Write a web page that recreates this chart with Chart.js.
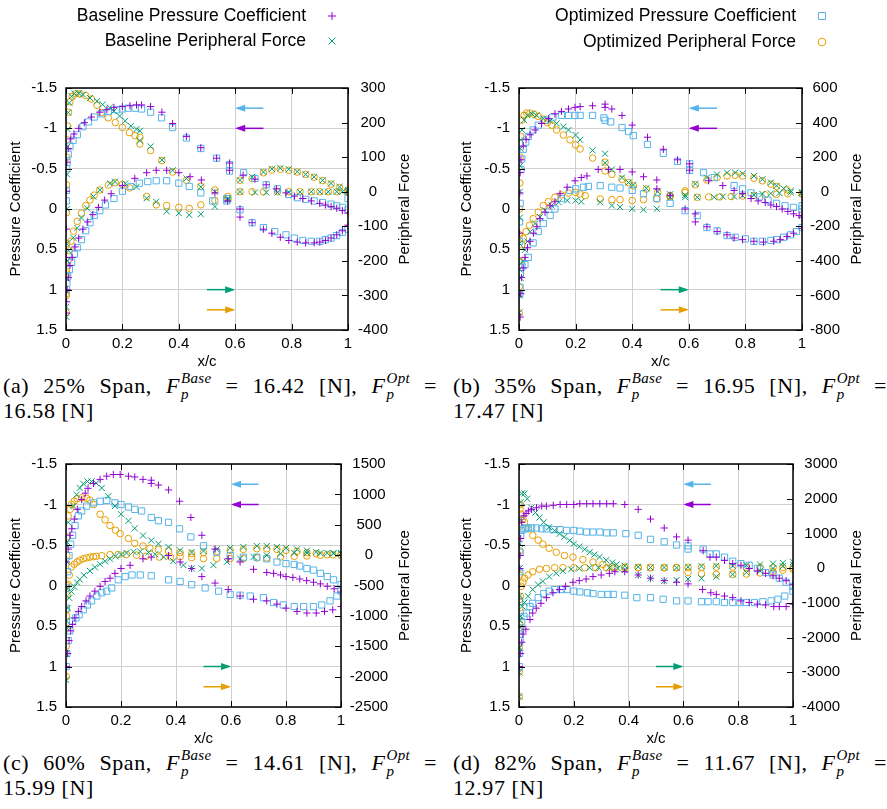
<!DOCTYPE html>
<html>
<head>
<meta charset="utf-8">
<script src="https://cdn.jsdelivr.net/npm/chart.js@4.4.1/dist/chart.umd.min.js"></script>
<style>
  html, body { margin: 0; padding: 0; background: #fff; }
  #page { position: relative; width: 887px; height: 809px; overflow: hidden; }
  canvas { position: absolute; }
  .cap { position: absolute; font-family: "Liberation Serif", "DejaVu Serif", serif; font-size: 22px; color: #000; line-height: 27px; letter-spacing: 0.6px; }
  .cap .l1 { width: 434px; height: 27px; text-align: justify; text-align-last: justify; white-space: nowrap; }
  .cap .l2 { height: 27px; }
  .ss { display: inline-block; vertical-align: -6px; font-size: 15px; line-height: 16px; font-style: italic; margin-left: 1px; letter-spacing: 0.3px; }
  .ss span { display: block; }
</style>
</head>
<body>
<div id="page">
  <canvas id="legend" width="887" height="60" style="left:0;top:0"></canvas>
  <canvas id="chartA"></canvas>
  <canvas id="chartB"></canvas>
  <canvas id="chartC"></canvas>
  <canvas id="chartD"></canvas>
</div>
<script>
// ============================
// DATA (x/c, value)
// ============================
const seriesNames = ["Baseline Pressure Coefficient", "Baseline Peripheral Force", "Optimized Pressure Coefficient", "Optimized Peripheral Force"];
const spanPct = [25, 35, 60, 82];
const forceBase = ["16.42", "16.95", "14.61", "11.67"];
const forceOpt = ["16.58", "17.47", "15.99", "12.97"];
const xTicks = [0, 0.2, 0.4, 0.6, 0.8, 1];
const cpTicks = [-1.5, -1, -0.5, 0, 0.5, 1, 1.5];
const forceMin = [-400, -800, -2500, -4000];
const forceMax = [300, 600, 1500, 3000];
const forceStep = [100, 200, 500, 1000];
// axis hint arrows: [fromX, toX, Cp level]
const arrowFromX = [0.7, 0.7, 0.5, 0.5];
const arrowToX = [0.6, 0.6, 0.6, 0.6];
const arrowCp = [-1.25, -1.0, 1.0, 1.25];

// ---- (a) 25% span ----
const aBaseCp = [[0.001,1.29],[0.002,1.15],[0.004,1.0],[0.008,0.85],[0.014,0.7],[0.022,0.6],[0.032,0.47],[0.045,0.36],[0.06,0.25],[0.077,0.16],[0.095,0.07],[0.115,-0.02],[0.137,-0.11],[0.16,-0.19],[0.2,-0.29],[0.244,-0.38],[0.286,-0.45],[0.32,-0.48],[0.357,-0.48],[0.4,-0.45],[0.44,-0.4],[0.48,-0.36],[0.528,-0.2],[0.573,-0.1],[0.617,0.0],[0.617,0.1],[0.66,0.17],[0.7,0.25],[0.73,0.3],[0.76,0.35],[0.79,0.39],[0.82,0.41],[0.85,0.42],[0.88,0.42],[0.9,0.41],[0.92,0.39],[0.94,0.36],[0.96,0.32],[0.98,0.27],[1.0,0.2],
  [0.001,0.6],[0.001,0.25],[0.002,-0.22],[0.003,-0.58],[0.008,-0.75],[0.017,-0.87],[0.028,-0.93],[0.045,-1.0],[0.065,-1.07],[0.09,-1.14],[0.12,-1.2],[0.145,-1.23],[0.17,-1.26],[0.2,-1.27],[0.227,-1.28],[0.25,-1.29],[0.268,-1.29],[0.3,-1.27],[0.34,-1.2],[0.378,-1.06],[0.427,-0.9],[0.478,-0.76],[0.534,-0.63],[0.58,-0.57],[0.58,-0.48],[0.628,-0.42],[0.67,-0.37],[0.71,-0.3],[0.746,-0.25],[0.78,-0.2],[0.81,-0.16],[0.84,-0.13],[0.87,-0.1],[0.9,-0.07],[0.92,-0.05],[0.94,-0.03],[0.96,-0.01],[0.98,0.02],[1.0,0.05]];
const aBaseF = [[0.001,-362],[0.001,-333],[0.002,-250],[0.003,-150],[0.003,-50],[0.004,50],[0.005,130],[0.006,181],[0.008,229],[0.012,257],[0.02,276],[0.03,284],[0.045,285],[0.06,281],[0.085,271],[0.11,262],[0.13,252],[0.155,243],[0.17,233],[0.19,219],[0.21,205],[0.23,190],[0.25,181],[0.262,176],[0.262,148],[0.3,131],[0.34,92],[0.378,62],[0.427,38],[0.478,14],[0.528,0],[0.575,-20],[0.617,33],[0.66,43],[0.7,57],[0.73,66],[0.76,68],[0.79,65],[0.82,58],[0.85,50],[0.88,43],[0.91,33],[0.94,24],[0.97,14],[1.0,5],
  [0.004,-200],[0.009,-171],[0.026,-133],[0.04,-105],[0.055,-76],[0.075,-48],[0.097,-14],[0.12,5],[0.156,24],[0.174,29],[0.21,24],[0.25,14],[0.286,-19],[0.32,-29],[0.357,-57],[0.4,-62],[0.437,-67],[0.478,-65],[0.528,-43],[0.573,-24],[0.617,0],[0.67,-2],[0.71,-2],[0.75,-2],[0.79,-1],[0.83,-1],[0.87,0],[0.9,0],[0.93,0],[0.96,0],[0.98,0],[1.0,0]];
const aOptCp = [[0.001,1.0],[0.003,0.92],[0.006,0.84],[0.012,0.75],[0.02,0.66],[0.03,0.56],[0.04,0.48],[0.055,0.38],[0.07,0.27],[0.085,0.17],[0.1,0.08],[0.12,0.02],[0.14,-0.05],[0.17,-0.13],[0.2,-0.22],[0.23,-0.28],[0.26,-0.32],[0.29,-0.34],[0.32,-0.35],[0.357,-0.35],[0.4,-0.32],[0.437,-0.28],[0.478,-0.2],[0.52,-0.1],[0.57,-0.13],[0.57,-0.1],[0.617,0.01],[0.66,0.17],[0.7,0.23],[0.74,0.28],[0.78,0.32],[0.81,0.36],[0.84,0.39],[0.87,0.4],[0.9,0.4],[0.92,0.38],[0.94,0.36],[0.96,0.33],[0.98,0.29],[1.0,0.25],
  [0.001,-0.1],[0.001,-0.23],[0.002,-0.5],[0.004,-0.58],[0.008,-0.68],[0.014,-0.78],[0.025,-0.85],[0.04,-0.92],[0.06,-1.02],[0.08,-1.08],[0.1,-1.14],[0.125,-1.18],[0.15,-1.21],[0.18,-1.23],[0.2,-1.24],[0.22,-1.25],[0.245,-1.25],[0.268,-1.24],[0.3,-1.2],[0.339,-1.13],[0.378,-1.01],[0.427,-0.88],[0.478,-0.75],[0.534,-0.63],[0.58,-0.55],[0.58,-0.47],[0.63,-0.45],[0.67,-0.38],[0.71,-0.3],[0.75,-0.25],[0.79,-0.18],[0.82,-0.14],[0.85,-0.12],[0.88,-0.1],[0.91,-0.08],[0.94,-0.06],[0.96,-0.04],[0.98,-0.02],[1.0,0.01],[1.0,-0.13]];
const aOptF = [[0.001,-350],[0.001,-300],[0.002,-230],[0.002,-150],[0.002,-60],[0.002,20],[0.003,100],[0.004,150],[0.006,190],[0.009,230],[0.014,260],[0.022,276],[0.035,283],[0.05,283],[0.07,278],[0.09,268],[0.11,250],[0.125,229],[0.15,214],[0.175,200],[0.2,186],[0.225,171],[0.245,162],[0.262,157],[0.262,138],[0.3,119],[0.34,90],[0.378,57],[0.427,33],[0.478,16],[0.528,5],[0.575,-20],[0.617,33],[0.66,38],[0.7,55],[0.73,63],[0.76,65],[0.79,62],[0.82,57],[0.85,50],[0.88,42],[0.91,32],[0.94,22],[0.97,12],[1.0,5],
  [0.001,-295],[0.004,-238],[0.007,-200],[0.012,-171],[0.018,-143],[0.027,-114],[0.04,-86],[0.055,-62],[0.07,-40],[0.085,-24],[0.1,-10],[0.12,5],[0.15,19],[0.175,26],[0.2,21],[0.225,11],[0.286,-14],[0.32,-38],[0.357,-40],[0.4,-45],[0.437,-48],[0.478,-38],[0.528,-25],[0.573,-14],[0.617,0],[0.66,0],[0.7,0],[0.75,0],[0.79,0],[0.83,0],[0.87,0],[0.9,0],[0.93,0],[0.96,0],[1.0,0]];

// ---- (b) 35% span ----
const bBaseCp = [[0.004,1.34],[0.006,1.05],[0.009,0.85],[0.015,0.73],[0.021,0.6],[0.03,0.48],[0.039,0.4],[0.051,0.3],[0.063,0.22],[0.074,0.12],[0.092,0.04],[0.11,-0.04],[0.127,-0.09],[0.145,-0.19],[0.17,-0.27],[0.198,-0.35],[0.22,-0.39],[0.24,-0.41],[0.28,-0.49],[0.316,-0.49],[0.357,-0.49],[0.4,-0.46],[0.44,-0.4],[0.487,-0.36],[0.487,-0.25],[0.534,-0.17],[0.587,0.0],[0.623,0.06],[0.623,0.16],[0.664,0.22],[0.7,0.28],[0.735,0.32],[0.76,0.36],[0.79,0.38],[0.83,0.4],[0.864,0.41],[0.9,0.4],[0.923,0.38],[0.947,0.34],[0.97,0.3],[1.0,0.24],
  [0.002,0.3],[0.003,-0.2],[0.004,-0.45],[0.007,-0.61],[0.015,-0.78],[0.025,-0.86],[0.039,-0.92],[0.057,-0.98],[0.08,-1.06],[0.104,-1.12],[0.127,-1.18],[0.15,-1.21],[0.175,-1.24],[0.198,-1.26],[0.216,-1.27],[0.26,-1.28],[0.304,-1.3],[0.304,-1.26],[0.328,-1.24],[0.364,-1.16],[0.4,-1.04],[0.454,-0.89],[0.51,-0.74],[0.56,-0.61],[0.603,-0.56],[0.603,-0.48],[0.67,-0.35],[0.72,-0.29],[0.76,-0.23],[0.79,-0.19],[0.82,-0.13],[0.845,-0.1],[0.87,-0.08],[0.89,-0.05],[0.91,-0.03],[0.93,0.0],[0.95,0.03],[0.97,0.06],[0.99,0.08],[1.0,0.1]];
const bBaseF = [[0.001,-700],[0.001,-600],[0.002,-450],[0.002,-300],[0.003,-150],[0.003,0],[0.004,150],[0.005,250],[0.006,300],[0.01,357],[0.018,414],[0.03,442],[0.045,451],[0.062,442],[0.086,423],[0.11,410],[0.133,395],[0.157,376],[0.175,357],[0.2,328],[0.216,300],[0.26,239],[0.304,220],[0.304,167],[0.328,129],[0.364,82],[0.387,53],[0.404,40],[0.45,20],[0.49,0],[0.534,-15],[0.587,-20],[0.623,45],[0.664,82],[0.7,100],[0.735,110],[0.764,110],[0.79,104],[0.83,91],[0.86,72],[0.89,53],[0.91,34],[0.935,19],[0.96,6],[1.0,-8],
  [0.002,-592],[0.006,-500],[0.013,-402],[0.021,-336],[0.03,-288],[0.04,-231],[0.057,-184],[0.074,-146],[0.092,-108],[0.115,-80],[0.14,-61],[0.17,-51],[0.2,-51],[0.22,-57],[0.287,-61],[0.328,-80],[0.357,-89],[0.4,-99],[0.44,-104],[0.487,-99],[0.534,-32],[0.587,-32],[0.63,-32],[0.69,-32],[0.72,-28],[0.76,-28],[0.79,-23],[0.83,-19],[0.86,-13],[0.89,-10],[0.92,-8],[0.96,-4],[1.0,-4]];
const bOptCp = [[0.003,1.05],[0.004,0.97],[0.005,0.8],[0.01,0.72],[0.021,0.69],[0.033,0.6],[0.05,0.42],[0.068,0.28],[0.086,0.18],[0.11,0.08],[0.127,0.0],[0.15,-0.13],[0.18,-0.23],[0.2,-0.25],[0.228,-0.27],[0.245,-0.28],[0.287,-0.29],[0.328,-0.27],[0.357,-0.26],[0.4,-0.23],[0.44,-0.19],[0.487,-0.13],[0.534,-0.07],[0.587,0.02],[0.63,0.08],[0.664,0.23],[0.7,0.27],[0.735,0.33],[0.764,0.35],[0.8,0.37],[0.83,0.4],[0.86,0.4],[0.89,0.39],[0.91,0.38],[0.935,0.35],[0.96,0.32],[0.98,0.28],[1.0,0.23],
  [0.002,0.4],[0.002,0.16],[0.004,-0.07],[0.007,-0.49],[0.01,-0.62],[0.015,-0.74],[0.024,-0.83],[0.033,-0.9],[0.05,-0.98],[0.068,-1.04],[0.092,-1.1],[0.12,-1.14],[0.15,-1.16],[0.175,-1.16],[0.198,-1.16],[0.216,-1.16],[0.26,-1.16],[0.3,-1.13],[0.304,-1.1],[0.324,-1.08],[0.364,-1.01],[0.387,-0.96],[0.404,-0.91],[0.454,-0.8],[0.51,-0.69],[0.56,-0.59],[0.603,-0.56],[0.603,-0.48],[0.652,-0.45],[0.69,-0.39],[0.76,-0.29],[0.79,-0.25],[0.82,-0.2],[0.85,-0.15],[0.88,-0.11],[0.91,-0.07],[0.94,-0.04],[0.97,-0.02],[1.0,0.0],[1.0,-0.04]];
const bOptF = [[0.001,-700],[0.001,-550],[0.002,-400],[0.002,-250],[0.002,-100],[0.003,50],[0.004,200],[0.006,320],[0.01,414],[0.018,442],[0.027,455],[0.039,455],[0.053,448],[0.068,436],[0.086,420],[0.1,400],[0.116,385],[0.133,357],[0.157,328],[0.18,300],[0.2,271],[0.216,247],[0.26,195],[0.304,171],[0.304,120],[0.328,100],[0.364,72],[0.387,53],[0.404,34],[0.45,15],[0.49,-4],[0.534,-23],[0.587,5],[0.623,40],[0.664,68],[0.7,82],[0.735,91],[0.764,95],[0.79,91],[0.83,78],[0.86,63],[0.89,44],[0.91,30],[0.947,11],[1.0,-13],
  [0.002,-402],[0.01,-307],[0.015,-269],[0.025,-231],[0.037,-194],[0.05,-156],[0.068,-118],[0.086,-80],[0.104,-57],[0.127,-32],[0.15,-19],[0.175,-8],[0.2,-4],[0.216,-13],[0.234,-23],[0.287,-42],[0.328,-46],[0.357,-46],[0.4,-51],[0.44,-46],[0.487,-42],[0.534,-27],[0.587,-4],[0.63,-32],[0.67,-30],[0.71,-30],[0.75,-28],[0.79,-25],[0.83,-22],[0.87,-18],[0.91,-15],[0.95,-12],[1.0,-10]];

// ---- (c) 60% span ----
const cBaseCp = [[0.002,1.0],[0.006,0.84],[0.011,0.68],[0.017,0.56],[0.024,0.48],[0.032,0.4],[0.045,0.32],[0.057,0.26],[0.073,0.19],[0.087,0.13],[0.105,0.07],[0.124,0.01],[0.142,-0.05],[0.16,-0.09],[0.178,-0.15],[0.2,-0.21],[0.233,-0.25],[0.28,-0.33],[0.31,-0.35],[0.373,-0.37],[0.415,-0.29],[0.457,-0.21],[0.494,-0.11],[0.542,-0.03],[0.59,0.05],[0.633,0.13],[0.682,0.17],[0.73,0.19],[0.767,0.23],[0.8,0.28],[0.84,0.32],[0.876,0.34],[0.91,0.34],[0.94,0.32],[0.97,0.3],[1.0,0.26],
  [0.002,-0.29],[0.008,-0.45],[0.015,-0.62],[0.021,-0.7],[0.03,-0.82],[0.041,-0.94],[0.057,-1.06],[0.07,-1.14],[0.08,-1.2],[0.1,-1.26],[0.124,-1.31],[0.148,-1.35],[0.172,-1.37],[0.197,-1.37],[0.227,-1.35],[0.25,-1.34],[0.28,-1.31],[0.31,-1.3],[0.31,-1.26],[0.336,-1.24],[0.373,-1.18],[0.413,-1.04],[0.454,-0.84],[0.494,-0.62],[0.542,-0.45],[0.59,-0.33],[0.633,-0.29],[0.682,-0.2],[0.73,-0.16],[0.755,-0.15],[0.78,-0.13],[0.8,-0.11],[0.825,-0.1],[0.85,-0.08],[0.875,-0.06],[0.9,-0.04],[0.925,-0.02],[0.95,0.01],[0.975,0.04],[1.0,0.08]];
const cBaseF = [[0.001,-2056],[0.001,-1624],[0.002,-1084],[0.002,-543],[0.003,-111],[0.004,213],[0.008,538],[0.027,808],[0.039,997],[0.05,1105],[0.063,1175],[0.078,1213],[0.093,1213],[0.11,1186],[0.13,1105],[0.154,970],[0.178,808],[0.2,673],[0.227,565],[0.25,440],[0.28,322],[0.31,241],[0.336,187],[0.373,132],[0.415,78],[0.457,51],[0.5,68],[0.548,95],[0.597,116],[0.645,132],[0.694,149],[0.73,149],[0.767,132],[0.8,116],[0.84,95],[0.876,73],[0.91,51],[0.95,35],[0.973,24],[1.0,24],
  [0.002,-1192],[0.006,-870],[0.012,-705],[0.02,-600],[0.03,-520],[0.04,-450],[0.05,-400],[0.065,-330],[0.087,-260],[0.105,-200],[0.124,-150],[0.142,-100],[0.16,-60],[0.18,-20],[0.2,10],[0.22,35],[0.245,55],[0.27,60],[0.3,45],[0.324,15],[0.355,-30],[0.39,-100],[0.427,-165],[0.457,-219],[0.494,-219],[0.536,-165],[0.585,-111],[0.633,-57],[0.682,-30],[0.73,-3],[0.78,24],[0.83,35],[0.876,35],[0.925,35],[0.973,35],[1.0,35]];
const cOptCp = [[0.001,1.0],[0.003,0.84],[0.008,0.68],[0.014,0.56],[0.024,0.44],[0.036,0.4],[0.048,0.36],[0.063,0.3],[0.078,0.24],[0.093,0.19],[0.112,0.13],[0.13,0.09],[0.148,0.07],[0.166,0.03],[0.19,-0.07],[0.215,-0.11],[0.24,-0.13],[0.27,-0.13],[0.31,-0.12],[0.373,-0.07],[0.415,-0.05],[0.457,-0.01],[0.506,0.03],[0.555,0.07],[0.597,0.11],[0.633,0.12],[0.67,0.13],[0.718,0.15],[0.755,0.21],[0.79,0.24],[0.83,0.26],[0.864,0.26],[0.9,0.26],[0.93,0.24],[0.96,0.19],[0.985,0.13],[1.0,0.07],
  [0.001,0.28],[0.002,0.03],[0.006,-0.17],[0.011,-0.37],[0.017,-0.51],[0.024,-0.62],[0.033,-0.74],[0.045,-0.86],[0.057,-0.92],[0.075,-0.98],[0.1,-1.02],[0.124,-1.04],[0.148,-1.05],[0.178,-1.02],[0.2,-1.0],[0.227,-0.97],[0.25,-0.94],[0.275,-0.92],[0.31,-0.84],[0.336,-0.8],[0.373,-0.78],[0.413,-0.7],[0.454,-0.6],[0.5,-0.49],[0.548,-0.41],[0.597,-0.37],[0.645,-0.35],[0.694,-0.35],[0.73,-0.33],[0.767,-0.29],[0.8,-0.27],[0.83,-0.26],[0.85,-0.24],[0.876,-0.21],[0.9,-0.19],[0.925,-0.15],[0.95,-0.11],[0.973,-0.07],[1.0,-0.01]];
const cOptF = [[0.001,-2000],[0.001,-1500],[0.002,-1000],[0.002,-500],[0.003,0],[0.004,300],[0.008,646],[0.015,754],[0.02,835],[0.03,889],[0.041,927],[0.057,943],[0.075,935],[0.087,905],[0.1,833],[0.124,673],[0.142,580],[0.16,487],[0.18,410],[0.197,353],[0.227,273],[0.25,193],[0.28,150],[0.305,113],[0.336,90],[0.373,70],[0.415,41],[0.457,24],[0.5,41],[0.548,62],[0.597,78],[0.645,95],[0.694,105],[0.73,105],[0.767,95],[0.8,78],[0.84,62],[0.876,41],[0.91,24],[0.95,8],[1.0,-3],
  [0.001,-1200],[0.002,-900],[0.004,-650],[0.007,-480],[0.012,-330],[0.02,-193],[0.03,-150],[0.04,-113],[0.05,-85],[0.063,-60],[0.075,-45],[0.087,-33],[0.1,-25],[0.11,-20],[0.13,-10],[0.16,7],[0.19,10],[0.22,10],[0.257,0],[0.29,-20],[0.34,-33],[0.38,-30],[0.415,-25],[0.457,-40],[0.5,-57],[0.548,-57],[0.597,-57],[0.645,-57],[0.694,-46],[0.73,-46],[0.78,-30],[0.83,-19],[0.876,-13],[0.925,-3],[0.97,5],[1.0,8]];

// ---- (d) 82% span ----
const dBaseCp = [[0.002,1.0],[0.006,0.84],[0.01,0.7],[0.015,0.6],[0.025,0.54],[0.04,0.42],[0.05,0.34],[0.063,0.28],[0.08,0.22],[0.1,0.15],[0.124,0.09],[0.148,0.05],[0.17,0.01],[0.197,-0.04],[0.22,-0.06],[0.245,-0.08],[0.27,-0.11],[0.3,-0.13],[0.33,-0.15],[0.35,-0.17],[0.386,-0.17],[0.435,-0.13],[0.48,-0.09],[0.53,-0.06],[0.575,-0.04],[0.617,-0.02],[0.67,0.05],[0.7,0.09],[0.72,0.11],[0.75,0.13],[0.78,0.15],[0.81,0.19],[0.84,0.21],[0.87,0.23],[0.9,0.24],[0.93,0.26],[0.95,0.26],[0.975,0.26],[1.0,0.23],
  [0.003,-0.21],[0.004,-0.37],[0.006,-0.58],[0.01,-0.78],[0.018,-0.86],[0.026,-0.89],[0.034,-0.92],[0.046,-0.94],[0.064,-0.96],[0.083,-0.98],[0.1,-0.98],[0.125,-0.99],[0.15,-1.0],[0.174,-1.0],[0.2,-1.0],[0.222,-1.01],[0.247,-1.01],[0.27,-1.01],[0.295,-1.01],[0.32,-1.01],[0.344,-1.01],[0.386,-1.0],[0.435,-0.94],[0.48,-0.82],[0.53,-0.71],[0.575,-0.6],[0.617,-0.56],[0.672,-0.43],[0.697,-0.35],[0.72,-0.35],[0.75,-0.31],[0.78,-0.27],[0.81,-0.25],[0.84,-0.21],[0.87,-0.18],[0.9,-0.15],[0.927,-0.12],[0.95,-0.09],[0.975,-0.06],[1.0,-0.01]];
const dBaseF = [[0.001,-3700],[0.001,-3000],[0.001,-2300],[0.002,-1500],[0.002,-800],[0.003,0],[0.003,700],[0.004,1400],[0.006,1900],[0.01,2150],[0.02,2150],[0.03,2000],[0.045,1740],[0.06,1600],[0.075,1460],[0.09,1320],[0.11,1180],[0.13,1080],[0.148,990],[0.165,900],[0.185,800],[0.2,700],[0.22,620],[0.24,540],[0.258,460],[0.275,390],[0.294,320],[0.318,230],[0.34,160],[0.356,110],[0.386,66],[0.435,38],[0.48,19],[0.53,19],[0.575,9],[0.617,38],[0.666,57],[0.72,66],[0.78,66],[0.83,85],[0.88,104],[0.927,132],[0.963,151],[1.0,180],
  [0.002,-2280],[0.004,-1712],[0.006,-1387],[0.012,-1100],[0.02,-990],[0.033,-810],[0.05,-617],[0.07,-477],[0.087,-383],[0.11,-243],[0.136,-150],[0.16,-80],[0.19,-33],[0.22,-10],[0.258,13],[0.29,13],[0.33,13],[0.36,0],[0.386,-57],[0.435,-199],[0.48,-293],[0.53,-369],[0.575,-341],[0.617,-312],[0.666,-293],[0.72,-246],[0.78,-180],[0.83,-123],[0.88,-76],[0.927,-9],[0.963,57],[1.0,104]];
const dOptCp = [[0.002,0.84],[0.004,0.68],[0.006,0.55],[0.01,0.45],[0.018,0.38],[0.027,0.34],[0.04,0.26],[0.05,0.22],[0.07,0.15],[0.09,0.1],[0.11,0.07],[0.13,0.05],[0.155,0.05],[0.175,0.05],[0.2,0.07],[0.222,0.08],[0.25,0.09],[0.27,0.1],[0.3,0.11],[0.325,0.11],[0.344,0.11],[0.386,0.12],[0.43,0.15],[0.48,0.15],[0.526,0.17],[0.575,0.19],[0.617,0.19],[0.666,0.2],[0.69,0.2],[0.72,0.2],[0.75,0.21],[0.78,0.21],[0.806,0.21],[0.83,0.21],[0.86,0.21],[0.89,0.2],[0.92,0.19],[0.945,0.17],[0.97,0.13],[1.0,0.07],
  [0.001,1.0],[0.001,0.6],[0.002,0.2],[0.003,-0.17],[0.004,-0.41],[0.006,-0.62],[0.01,-0.68],[0.018,-0.7],[0.026,-0.71],[0.034,-0.71],[0.046,-0.71],[0.064,-0.71],[0.083,-0.7],[0.1,-0.7],[0.125,-0.69],[0.15,-0.69],[0.174,-0.68],[0.2,-0.68],[0.222,-0.67],[0.247,-0.66],[0.27,-0.66],[0.295,-0.66],[0.32,-0.65],[0.344,-0.65],[0.39,-0.64],[0.435,-0.62],[0.48,-0.57],[0.53,-0.54],[0.575,-0.5],[0.617,-0.49],[0.617,-0.45],[0.672,-0.45],[0.697,-0.39],[0.72,-0.39],[0.75,-0.35],[0.78,-0.3],[0.81,-0.27],[0.84,-0.25],[0.87,-0.21],[0.9,-0.16],[0.927,-0.13],[0.95,-0.09],[0.975,-0.04],[1.0,0.01]];
const dOptF = [[0.001,-3700],[0.001,-3000],[0.001,-2300],[0.002,-1600],[0.002,-900],[0.002,-200],[0.003,500],[0.003,1200],[0.004,1700],[0.005,1833],[0.008,1553],[0.014,1420],[0.02,1320],[0.033,1133],[0.05,947],[0.07,807],[0.087,690],[0.11,573],[0.136,457],[0.166,363],[0.197,317],[0.233,247],[0.27,177],[0.306,107],[0.34,37],[0.386,30],[0.435,20],[0.48,20],[0.53,15],[0.575,15],[0.617,-123],[0.666,-160],[0.72,-180],[0.78,-180],[0.83,-170],[0.88,-140],[0.927,-100],[0.963,-60],[1.0,-30],
  [0.002,-1712],[0.003,-1145],[0.005,-810],[0.008,-523],[0.014,-400],[0.02,-290],[0.033,-197],[0.05,-103],[0.075,-33],[0.1,-10],[0.13,13],[0.16,13],[0.2,13],[0.24,13],[0.28,13],[0.32,13],[0.35,13],[0.386,13],[0.435,13],[0.48,13],[0.53,10],[0.575,10],[0.617,20],[0.666,25],[0.72,30],[0.78,30],[0.83,30],[0.88,25],[0.927,20],[0.963,15],[1.0,10]];

const panelSeries = [
  [aBaseCp, aBaseF, aOptCp, aOptF],
  [bBaseCp, bBaseF, bOptCp, bOptF],
  [cBaseCp, cBaseF, cOptCp, cOptF],
  [dBaseCp, dBaseF, dOptCp, dOptF]
];

// ============================
// STYLE / LAYOUT
// ============================
const colors = ["#9400d3", "#009e73", "#56b4e9", "#e69f00"];
const markers = ["cross", "crossRot", "rect", "circle"];
const radii = [3.6, 4.3, 4.4, 3.3];
const FONT = '"Liberation Sans", Arial, sans-serif';

// canvas box and plot box for each panel (page pixels)
const layout = [
  { id: "chartA", cx: 0,   cy: 70,  cw: 445, ch: 300, l: 66,  t: 85,  r: 348, b: 330, rGap: 57, lGap: 50, tickOff: 25 },
  { id: "chartB", cx: 445, cy: 70,  cw: 442, ch: 300, l: 519, t: 85,  r: 802, b: 330, rGap: 55, lGap: 52, tickOff: 23 },
  { id: "chartC", cx: 0,   cy: 446, cw: 445, ch: 300, l: 66,  t: 461, r: 341, b: 707, rGap: 64, lGap: 50, tickOff: 28 },
  { id: "chartD", cx: 445, cy: 446, cw: 442, ch: 300, l: 519, t: 461, r: 793, b: 707, rGap: 64, lGap: 52, tickOff: 28 }
];
const captionPos = [[3, 370], [453, 370], [3, 747], [453, 747]];

// ============================
// FRAME, TICKS, ARROWS, AXIS TITLES
// ============================
const framePlugin = {
  id: "frame",
  afterDraw(chart, args, opts) {
    const { ctx, chartArea: a, scales } = chart;
    ctx.save();
    // inward tick marks
    ctx.strokeStyle = "#000";
    ctx.lineWidth = 1;
    ctx.beginPath();
    xTicks.forEach(v => {
      const x = Math.round(scales.x.getPixelForValue(v)) + 0.5;
      ctx.moveTo(x, a.bottom); ctx.lineTo(x, a.bottom - 6);
      ctx.moveTo(x, a.top); ctx.lineTo(x, a.top + 6);
    });
    cpTicks.forEach(v => {
      const y = Math.round(scales.y.getPixelForValue(v)) + 0.5;
      ctx.moveTo(a.left, y); ctx.lineTo(a.left + 6, y);
    });
    const fTicks = scales.y2.ticks.map(t => t.value);
    fTicks.forEach(v => {
      const y = Math.round(scales.y2.getPixelForValue(v)) + 0.5;
      ctx.moveTo(a.right, y); ctx.lineTo(a.right - 6, y);
    });
    ctx.stroke();

    // arrows pointing to the axis each series uses
    arrowCp.forEach((cp, i) => {
      const col = [colors[2], colors[0], colors[1], colors[3]][i];
      const y = scales.y.getPixelForValue(cp);
      const x1 = scales.x.getPixelForValue(arrowFromX[i]);
      const x2 = scales.x.getPixelForValue(arrowToX[i]);
      const dir = Math.sign(x2 - x1);
      ctx.strokeStyle = col; ctx.fillStyle = col; ctx.lineWidth = 1.5;
      ctx.beginPath(); ctx.moveTo(x1, y); ctx.lineTo(x2 - dir * 2, y); ctx.stroke();
      ctx.beginPath();
      ctx.moveTo(x2, y); ctx.lineTo(x2 - dir * 10, y - 3.5); ctx.lineTo(x2 - dir * 10, y + 3.5);
      ctx.closePath(); ctx.fill();
    });

    // border
    ctx.strokeStyle = "#000";
    ctx.lineWidth = 1.5;
    ctx.strokeRect(a.left, a.top, a.right - a.left, a.bottom - a.top);

    // right axis labels, centred like the original
    ctx.fillStyle = "#000";
    ctx.font = "15px " + FONT;
    ctx.textAlign = "center";
    ctx.textBaseline = "middle";
    fTicks.forEach(v => {
      ctx.fillText(String(v), a.right + opts.tickOff, scales.y2.getPixelForValue(v));
    });

    // axis titles
    ctx.fillText("x/c", (a.left + a.right) / 2, a.bottom + 32);
    const midY = (a.top + a.bottom) / 2;
    [[a.left - opts.lGap, "Pressure Coefficient"], [a.right + opts.rGap, "Peripheral Force"]].forEach(([x, txt]) => {
      ctx.save();
      ctx.translate(x, midY);
      ctx.rotate(-Math.PI / 2);
      ctx.fillText(txt, 0, 0);
      ctx.restore();
    });
    ctx.restore();
  }
};

// ============================
// BUILD CHARTS
// ============================
function buildPanel(p) {
  const L = layout[p];
  const cv = document.getElementById(L.id);
  cv.width = L.cw; cv.height = L.ch;
  cv.style.left = L.cx + "px"; cv.style.top = L.cy + "px";

  const datasets = panelSeries[p].map((pts, i) => ({
    label: seriesNames[i],
    data: pts.map(q => ({ x: q[0], y: q[1] })),
    yAxisID: (i % 2 === 0) ? "y" : "y2",
    showLine: false,
    pointStyle: markers[i],
    pointRadius: radii[i],
    pointBorderWidth: 1,
    pointBorderColor: colors[i],
    pointBackgroundColor: "rgba(0,0,0,0)",
    borderColor: colors[i],
    backgroundColor: "rgba(0,0,0,0)"
  }));

  const tickFont = { family: FONT, size: 15 };

  new Chart(cv, {
    type: "scatter",
    data: { datasets },
    options: {
      responsive: false,
      animation: false,
      events: [],
      layout: { padding: { top: L.t - L.cy, left: 0, right: 0, bottom: 0 } },
      plugins: {
        legend: { display: false },
        tooltip: { enabled: false },
        frame: { lGap: L.lGap, rGap: L.rGap, tickOff: L.tickOff }
      },
      scales: {
        x: {
          type: "linear", min: 0, max: 1,
          ticks: { stepSize: 0.2, color: "#000", font: tickFont, padding: 5, maxRotation: 0, callback: v => String(v) },
          grid: { color: "#cfcfcf", drawTicks: false, lineWidth: 1 },
          border: { display: false },
          afterFit: s => { s.height = L.cy + L.ch - L.b; }
        },
        y: {
          type: "linear", position: "left", reverse: true, min: -1.5, max: 1.5,
          ticks: { stepSize: 0.5, color: "#000", font: tickFont, padding: 9, callback: v => String(v) },
          grid: { color: "#cfcfcf", drawTicks: false, lineWidth: 1 },
          border: { display: false },
          afterFit: s => { s.width = L.l - L.cx; }
        },
        y2: {
          type: "linear", position: "right", min: forceMin[p], max: forceMax[p],
          ticks: { stepSize: forceStep[p], display: false },
          grid: { display: false, drawOnChartArea: false },
          border: { display: false },
          afterFit: s => { s.width = L.cx + L.cw - L.r; }
        }
      }
    },
    plugins: [framePlugin]
  });
}

// ============================
// LEGEND (top strip)
// ============================
function drawMarker(ctx, style, x, y, color) {
  ctx.strokeStyle = color; ctx.lineWidth = 1;
  ctx.beginPath();
  if (style === "cross") { ctx.moveTo(x - 4, y); ctx.lineTo(x + 4, y); ctx.moveTo(x, y - 4); ctx.lineTo(x, y + 4); }
  else if (style === "crossRot") { ctx.moveTo(x - 3.5, y - 3.5); ctx.lineTo(x + 3.5, y + 3.5); ctx.moveTo(x + 3.5, y - 3.5); ctx.lineTo(x - 3.5, y + 3.5); }
  else if (style === "rect") { ctx.rect(x - 3.5, y - 3.5, 7, 7); }
  else { ctx.arc(x, y, 3.8, 0, Math.PI * 2); }
  ctx.stroke();
}

function drawLegend() {
  const ctx = document.getElementById("legend").getContext("2d");
  ctx.font = "17.5px " + FONT;
  ctx.fillStyle = "#000";
  ctx.textAlign = "right";
  ctx.textBaseline = "middle";
  const textRight = [306, 306, 796, 796];
  const markX = [332, 332, 822, 822];
  const rowY = [16, 41, 16, 42];
  [0, 1, 2, 3].forEach((s, k) => {
    ctx.fillText(seriesNames[s], textRight[k], rowY[k]);
    drawMarker(ctx, markers[s], markX[k], rowY[k], colors[s]);
  });
}

// ============================
// CAPTIONS
// ============================
function buildCaptions() {
  const page = document.getElementById("page");
  const letters = ["a", "b", "c", "d"];
  letters.forEach((ch, i) => {
    const d = document.createElement("div");
    d.className = "cap";
    d.style.left = captionPos[i][0] + "px";
    d.style.top = captionPos[i][1] + "px";
    d.innerHTML =
      '<div class="l1">(' + ch + ') ' + spanPct[i] + '% Span, <i>F</i><span class="ss"><span>Base</span><span>p</span></span> = ' +
      forceBase[i] + ' [N], <i>F</i><span class="ss"><span>Opt</span><span>p</span></span> =</div>' +
      '<div class="l2">' + forceOpt[i] + ' [N]</div>';
    page.appendChild(d);
  });
}

drawLegend();
for (let p = 0; p < 4; p++) buildPanel(p);
buildCaptions();
</script>
</body>
</html>
